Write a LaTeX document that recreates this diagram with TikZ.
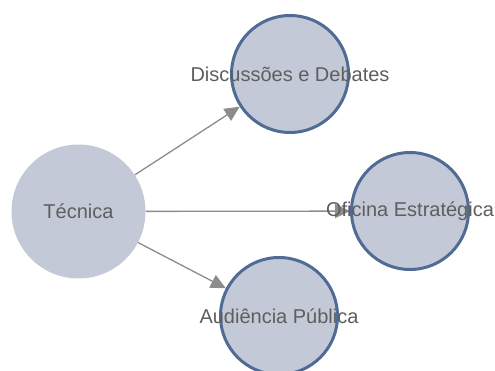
\documentclass[tikz,border=0pt]{standalone}
\usepackage{fontspec}
\setmainfont{Liberation Sans}
\usetikzlibrary{arrows.meta}
\definecolor{nodefill}{HTML}{C3C9D7}
\definecolor{nodeborder}{HTML}{506B94}
\definecolor{txt}{HTML}{5E5E5E}
\definecolor{edge}{HTML}{8C8C8C}
\begin{document}
\begin{tikzpicture}[x=1pt,y=-1pt,
  src/.style={circle,fill=nodefill,inner sep=0pt,minimum size=134pt},
  tgt/.style={circle,fill=nodefill,draw=nodeborder,line width=3pt,inner sep=0pt,minimum size=117pt},
  lbl/.style={text=txt,font=\fontsize{20}{23}\selectfont,inner sep=0pt},
  conn/.style={draw=edge,line width=1.3pt,-{Triangle[length=15pt,width=14pt]}}]
\useasboundingbox (0,0) rectangle (495,371);
\node[src] (tec) at (78.5,211.5) {};
\node[tgt] (dis) at (290,74) {};
\node[tgt] (ofi) at (410,211) {};
\node[tgt] (aud) at (279,316) {};
\draw[conn] (tec) -- (dis);
\draw[conn] (tec) -- (ofi);
\draw[conn] (tec) -- (aud);
\node[lbl] (ltec) at (tec.center) {Técnica};
\node[lbl] (ldis) at (dis.center) {Discussões e Debates};
\node[lbl] (lofi) at (ofi.center) {Oficina Estratégica};
\node[lbl] (laud) at (aud.center) {Audiência Pública};
\end{tikzpicture}
\end{document}
